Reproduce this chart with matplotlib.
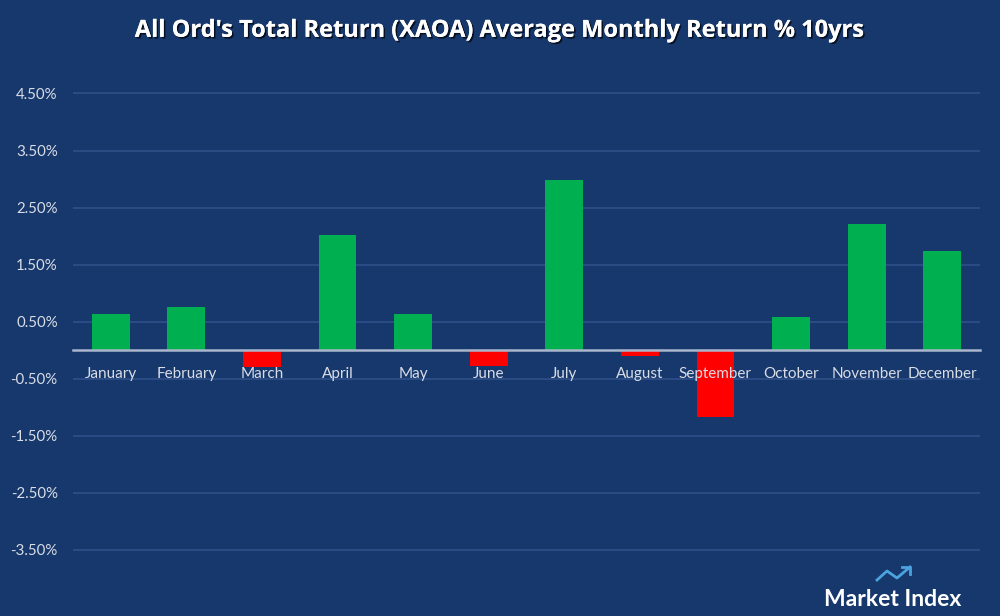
import matplotlib
matplotlib.use("Agg")
import matplotlib.pyplot as plt
import matplotlib.patheffects as pe
from matplotlib.lines import Line2D

months = ["January", "February", "March", "April", "May", "June",
          "July", "August", "September", "October", "November", "December"]
returns = [0.64, 0.76, -0.30, 2.02, 0.63, -0.28, 2.99, -0.10, -1.17, 0.58, 2.22, 1.74]
yticks = [-3.5, -2.5, -1.5, -0.5, 0.5, 1.5, 2.5, 3.5, 4.5]
ytick_labels = ["-3.50%", "-2.50%", "-1.50%", "-0.50%", "0.50%", "1.50%", "2.50%", "3.50%", "4.50%"]
title = "All Ord's Total Return (XAOA) Average Monthly Return % 10yrs"

BG = "#17386c"
GRID = "#2e5088"
TXT = "#d9dde6"
GREEN = "#00b050"
RED = "#ff0000"

plt.rcParams['font.family'] = ['Lato', 'DejaVu Sans']

fig = plt.figure(figsize=(10, 6.16), dpi=100, facecolor=BG)
ax = fig.add_axes([0.073, 0.0429, 0.907, 0.8516])
ax.set_facecolor(BG)

x = list(range(len(months)))
colors = [GREEN if v >= 0 else RED for v in returns]
ax.bar(x, returns, width=0.5, color=colors, zorder=2)

ax.set_xlim(-0.5, len(months) - 0.5)
ax.set_ylim(-4.2, 5.0)
ax.set_yticks(yticks)
ax.set_yticklabels(ytick_labels)
ax.yaxis.grid(True, color=GRID, linewidth=1.2)
ax.yaxis.set_zorder(0.5)
ax.tick_params(axis='y', length=0, pad=11, labelsize=10.8, labelcolor=TXT)

for s in ['left', 'right', 'top']:
    ax.spines[s].set_visible(False)
ax.spines['bottom'].set_position(('data', 0))
ax.spines['bottom'].set_color("#aab6cc")
ax.spines['bottom'].set_linewidth(1.8)
ax.spines['bottom'].set_zorder(4)
ax.set_xticks(x)
ax.set_xticklabels(months)
ax.xaxis.set_zorder(5)
ax.tick_params(axis='x', length=0, pad=12, labelsize=11, labelcolor=TXT)

fig.text(0.5, 0.950, title, ha='center', va='center', color='white',
         fontsize=17, fontweight='bold', family=['Open Sans', 'DejaVu Sans'],
         path_effects=[pe.withSimplePatchShadow(offset=(1.2, -1.2), shadow_rgbFace='black', alpha=0.7),
                       pe.Normal()])

# Market Index logo
fig.text(0.893, 0.016, "Market Index", ha='center', va='baseline', color='white',
         fontsize=16.5, fontweight='bold')
W, H = 1000, 616
pts = [(877, 580), (887, 571), (897, 578), (910, 567)]
xs = [p[0] / W for p in pts]
ys = [1 - p[1] / H for p in pts]
fig.add_artist(Line2D(xs, ys, color="#4aa3df", linewidth=2, transform=fig.transFigure))
ah = [(902, 567), (910, 567), (910, 574)]
fig.add_artist(Line2D([p[0] / W for p in ah], [1 - p[1] / H for p in ah],
                      color="#4aa3df", linewidth=2, transform=fig.transFigure))

fig.savefig("out.png", dpi=100, facecolor=BG)
